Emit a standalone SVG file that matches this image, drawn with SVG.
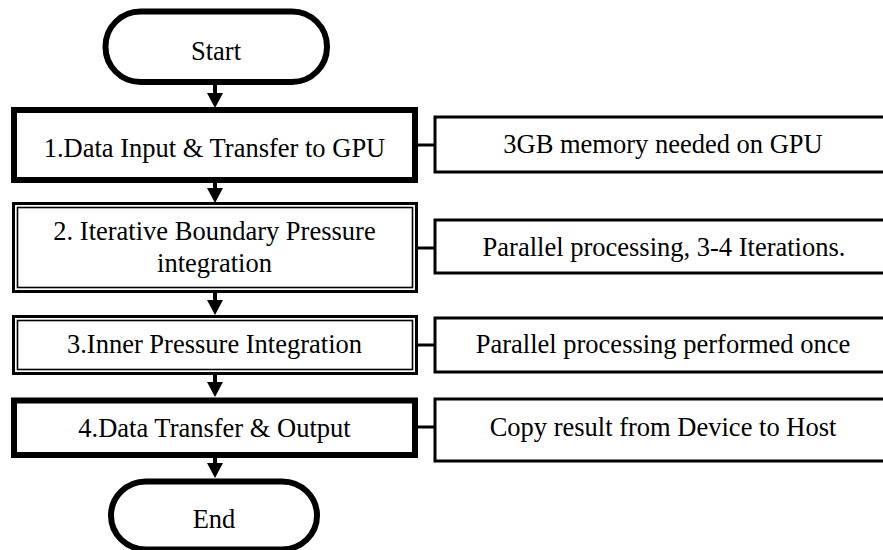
<svg xmlns="http://www.w3.org/2000/svg" width="883" height="550" viewBox="0 0 883 550">
<style>
.t{font-size:26.5px;fill:#000;text-anchor:middle}
.thick{fill:#fff;stroke:#000;stroke-width:6}
.dbo{fill:#fff;stroke:#000;stroke-width:3}
.dbi{fill:none;stroke:#000;stroke-width:1.6}
.note{fill:#fff;stroke:#000;stroke-width:3}
.shaft{stroke:#000;stroke-width:4;fill:none}
.side{stroke:#000;stroke-width:3;fill:none}
.head{fill:#000}
</style>
<rect width="883" height="550" fill="#fff"/>
<g id="connectors">
<line class="shaft" x1="215" y1="84" x2="215" y2="95"/>
<polygon class="head" points="207,93 223,93 215,108"/>
<line class="shaft" x1="215" y1="182" x2="215" y2="190"/>
<polygon class="head" points="207,188 223,188 215,203"/>
<line class="shaft" x1="215" y1="292" x2="215" y2="302"/>
<polygon class="head" points="207,300 223,300 215,315"/>
<line class="shaft" x1="215" y1="374" x2="215" y2="384"/>
<polygon class="head" points="207,382 223,382 215,397"/>
<line class="shaft" x1="215" y1="457" x2="215" y2="465"/>
<polygon class="head" points="207,463 223,463 215,478"/>
<line class="side" x1="418" y1="145" x2="435" y2="145"/>
<line class="side" x1="418" y1="248" x2="435" y2="248"/>
<line class="side" x1="418" y1="345" x2="435" y2="345"/>
<line class="side" x1="418" y1="427" x2="435" y2="427"/>
</g>
<g font-family="'Liberation Serif', 'Times New Roman', Times, serif">
<g id="start">
<rect class="thick" x="105.5" y="11.5" width="221.5" height="70.5" rx="35" ry="35"/>
<text class="t" x="216" y="60">Start</text>
</g>
<g id="step1">
<rect class="thick" x="14" y="110" width="401" height="70"/>
<text class="t" x="214.5" y="157">1.Data Input &amp; Transfer to GPU</text>
</g>
<g id="note1">
<rect class="note" x="435" y="117" width="460" height="55"/>
<text class="t" x="663" y="153">3GB memory needed on GPU</text>
</g>
<g id="step2">
<rect class="dbo" x="13.5" y="203.5" width="403" height="88"/>
<rect class="dbi" x="17.5" y="207.5" width="395" height="80"/>
<text class="t" x="214.5" y="240">2. Iterative Boundary Pressure</text>
<text class="t" x="214.5" y="272">integration</text>
</g>
<g id="note2">
<rect class="note" x="435" y="220" width="460" height="53"/>
<text class="t" x="664" y="256">Parallel processing, 3-4 Iterations.</text>
</g>
<g id="step3">
<rect class="dbo" x="13.5" y="316.5" width="403" height="57"/>
<rect class="dbi" x="17.5" y="320.5" width="395" height="49"/>
<text class="t" x="214.5" y="353">3.Inner Pressure Integration</text>
</g>
<g id="note3">
<rect class="note" x="435" y="318" width="460" height="54"/>
<text class="t" x="663" y="353">Parallel processing performed once</text>
</g>
<g id="step4">
<rect class="thick" x="14" y="400.5" width="401" height="54.5"/>
<text class="t" x="214.5" y="437">4.Data Transfer &amp; Output</text>
</g>
<g id="note4">
<rect class="note" x="435" y="399" width="460" height="62"/>
<text class="t" x="663" y="436">Copy result from Device to Host</text>
</g>
<g id="end">
<rect class="thick" x="111" y="481.5" width="206" height="68" rx="35" ry="35"/>
<text class="t" x="214" y="528">End</text>
</g>
</g>
</svg>
